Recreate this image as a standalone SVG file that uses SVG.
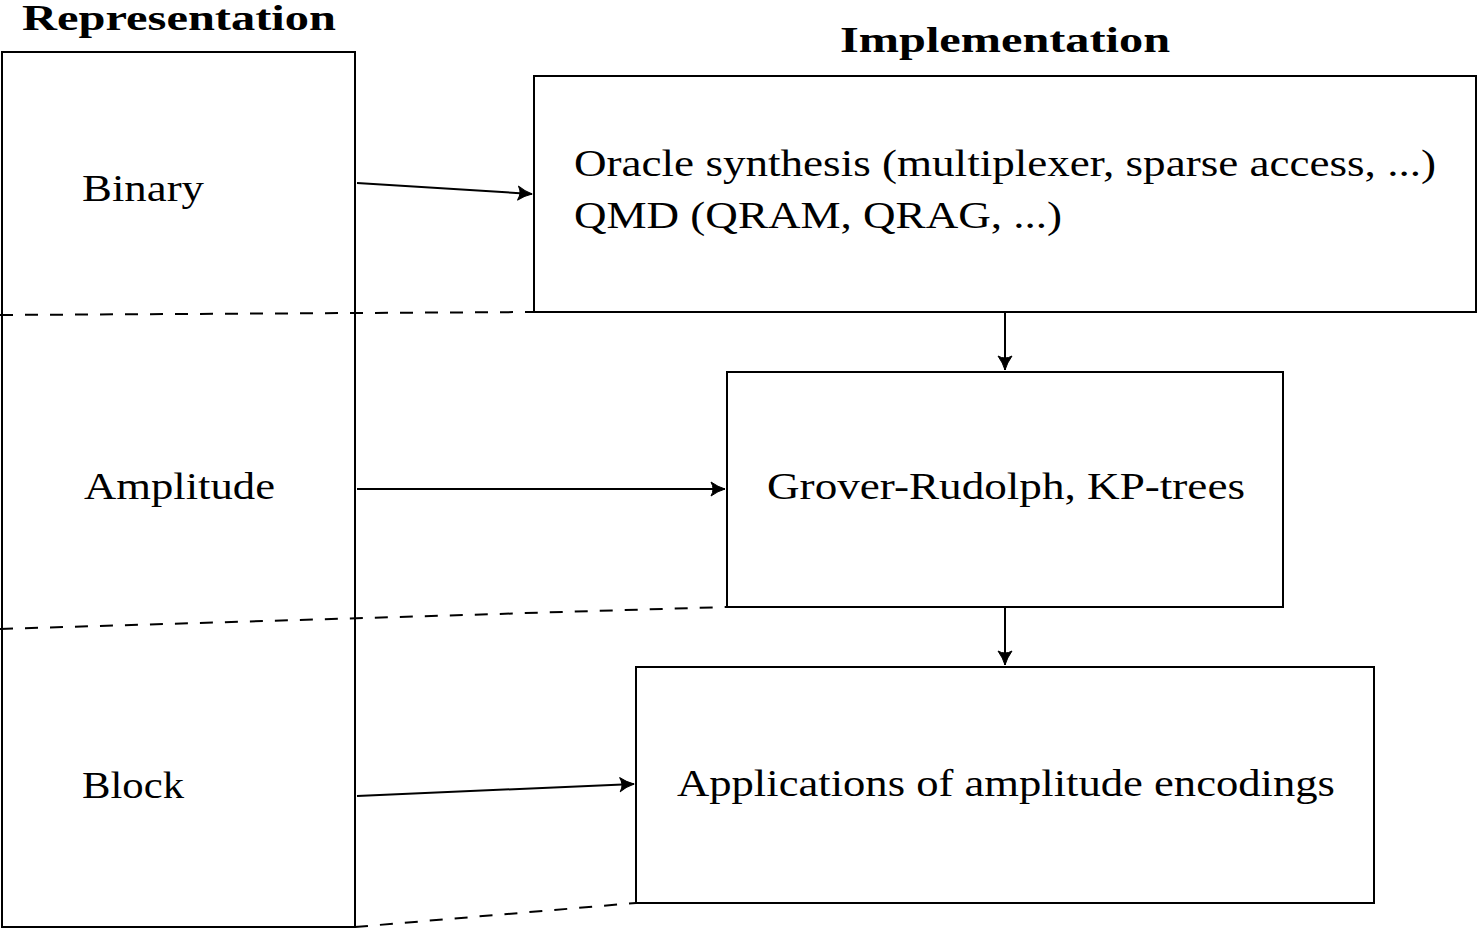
<svg xmlns="http://www.w3.org/2000/svg" width="1478" height="929" viewBox="0 0 1478 929">
<style>
.box{fill:none;stroke:#000;stroke-width:2}
.conn{fill:none;stroke:#000;stroke-width:2}
.dash{fill:none;stroke:#000;stroke-width:2;stroke-dasharray:13 12}
.t{font-family:"Liberation Serif","DejaVu Serif",serif;font-size:37px;fill:#000}
.h{font-family:"Liberation Serif","DejaVu Serif",serif;font-size:35px;font-weight:bold;fill:#000}
</style>
<defs>
<marker id="arr" markerWidth="18" markerHeight="18" refX="15" refY="9" orient="auto" markerUnits="userSpaceOnUse">
<path d="M1,2 Q8,7 15,9 Q8,11 1,16 Q5,9 1,2 Z" fill="#000" stroke="#000" stroke-width="1" stroke-linejoin="round"/>
</marker>
</defs>
<rect width="1478" height="929" fill="#fff"/>
<g id="headings">
<text class="h" x="22" y="30" textLength="314" lengthAdjust="spacingAndGlyphs">Representation</text>
<text class="h" x="840" y="52" textLength="330" lengthAdjust="spacingAndGlyphs">Implementation</text>
</g>
<g id="representation">
<rect class="box" x="2" y="52" width="353" height="875"/>
<text class="t" x="82" y="201" textLength="122" lengthAdjust="spacingAndGlyphs">Binary</text>
<text class="t" x="84" y="499" textLength="191" lengthAdjust="spacingAndGlyphs">Amplitude</text>
<text class="t" x="82" y="798" textLength="102" lengthAdjust="spacingAndGlyphs">Block</text>
</g>
<g id="oracle">
<rect class="box" x="534" y="76" width="942" height="236"/>
<text class="t" x="574" y="176" textLength="862" lengthAdjust="spacingAndGlyphs">Oracle synthesis (multiplexer, sparse access, ...)</text>
<text class="t" x="574" y="228" textLength="488" lengthAdjust="spacingAndGlyphs">QMD (QRAM, QRAG, ...)</text>
</g>
<g id="grover">
<rect class="box" x="727" y="372" width="556" height="235"/>
<text class="t" x="767" y="499" textLength="478" lengthAdjust="spacingAndGlyphs">Grover-Rudolph, KP-trees</text>
</g>
<g id="applications">
<rect class="box" x="636" y="667" width="738" height="236"/>
<text class="t" x="677" y="796" textLength="658" lengthAdjust="spacingAndGlyphs">Applications of amplitude encodings</text>
</g>
<g id="connectors">
<line class="conn" x1="357" y1="183" x2="532" y2="194" marker-end="url(#arr)"/>
<line class="conn" x1="357" y1="489" x2="725" y2="489" marker-end="url(#arr)"/>
<line class="conn" x1="357" y1="796" x2="634" y2="784" marker-end="url(#arr)"/>
<line class="conn" x1="1005" y1="312" x2="1005" y2="370" marker-end="url(#arr)"/>
<line class="conn" x1="1005" y1="607" x2="1005" y2="665" marker-end="url(#arr)"/>
<line class="dash" x1="0" y1="315" x2="534" y2="312"/>
<line class="dash" x1="0" y1="629" x2="727" y2="607"/>
<line class="dash" x1="355" y1="927" x2="636" y2="903"/>
</g>
</svg>
